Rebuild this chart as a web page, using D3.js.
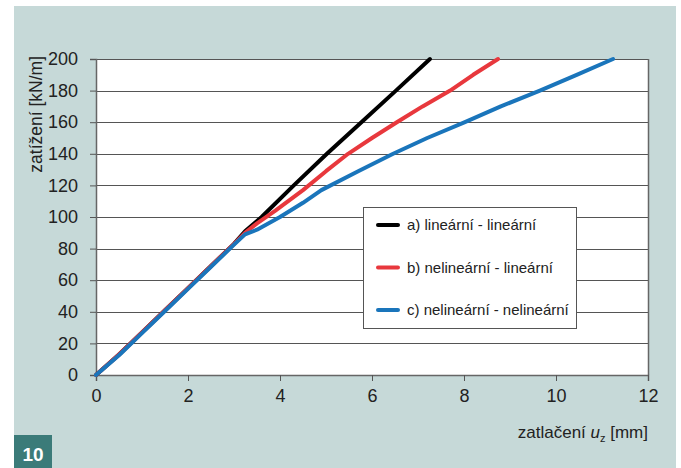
<!DOCTYPE html>
<html>
<head>
<meta charset="utf-8">
<script src="https://cdn.jsdelivr.net/npm/d3@7"></script>
<style>
  body { margin: 0; background: #fff; }
  svg text { font-family: "Liberation Sans", Arial, sans-serif; fill: #222; }
</style>
</head>
<body>
<div id="chart"></div>
<script>
// x ticks [mm], y ticks [kN/m]
const xTicks = [0, 2, 4, 6, 8, 10, 12];
const yTicks = [0, 20, 40, 60, 80, 100, 120, 140, 160, 180, 200];

// a) lineární - lineární
const aX = [0, 0.5, 1, 1.5, 2, 2.5, 3, 3.24, 3.6, 4.3, 5.02, 5.77, 6.52, 7.26];
const aY = [0, 13, 27, 41, 55, 69, 83, 91, 100, 120, 140, 160, 180, 200];
// b) nelineární - lineární
const bX = [0, 0.5, 1, 1.5, 2, 2.5, 3, 3.24, 3.5, 3.9, 4.5, 5.0, 5.48, 6.0, 6.54, 7.1, 7.7, 8.2, 8.74];
const bY = [0, 13, 27, 41, 55, 69, 83, 90, 96, 104, 117, 129, 140, 150, 160, 170, 180, 190, 200];
// c) nelineární - nelineární
const cX = [0, 0.5, 1, 1.5, 2, 2.5, 3, 3.24, 3.5, 4.0, 4.5, 4.9, 5.7, 6.46, 7.2, 8.02, 8.8, 9.65, 10.45, 11.24];
const cY = [0, 12.5, 26.5, 40.5, 54.5, 68.5, 82.5, 89, 92, 100, 109, 117, 129, 140, 150, 160, 170, 180, 190, 200];

const seriesNames = ['a) lineární - lineární', 'b) nelineární - lineární', 'c) nelineární - nelineární'];
const seriesColors = ['#000000', '#e8383d', '#1a75bb'];

const width = 681;
const height = 468;

const svg = d3.select('#chart').append('svg')
  .attr('width', width)
  .attr('height', height);

// panel background
svg.append('rect')
  .attr('x', 14).attr('y', 6)
  .attr('width', 662).attr('height', height - 6)
  .attr('fill', '#c6d9d8');

// figure number badge
svg.append('rect')
  .attr('x', 14).attr('y', 435)
  .attr('width', 38).attr('height', 33)
  .attr('fill', '#3b7b79');
svg.append('text')
  .attr('x', 33).attr('y', 461)
  .attr('text-anchor', 'middle')
  .style('fill', '#fff')
  .style('font-size', '19px')
  .style('font-weight', '600')
  .text('10');

const x = d3.scaleLinear().domain([0, 12]).range([96, 648]);
const y = d3.scaleLinear().domain([0, 200]).range([375, 59]);

// plot area
svg.append('rect')
  .attr('x', x(0)).attr('y', y(200))
  .attr('width', x(12) - x(0)).attr('height', y(0) - y(200))
  .attr('fill', '#fff');

// horizontal grid
svg.append('g').selectAll('line')
  .data(yTicks)
  .enter()
  .append('line')
  .attr('x1', x(0)).attr('x2', x(12))
  .attr('y1', (d) => Math.round(y(d)) + 0.5)
  .attr('y2', (d) => Math.round(y(d)) + 0.5)
  .attr('stroke', '#555')
  .attr('stroke-width', 1.2);

// right border
svg.append('line')
  .attr('x1', x(12) + 0.5).attr('x2', x(12) + 0.5)
  .attr('y1', y(200)).attr('y2', y(0))
  .attr('stroke', '#666').attr('stroke-width', 1.5);

// axes
const yAxis = svg.append('g')
  .attr('transform', `translate(${x(0)},0)`)
  .call(d3.axisLeft(y).tickValues(yTicks).tickSize(6).tickPadding(12));
const xAxis = svg.append('g')
  .attr('transform', `translate(0,${y(0)})`)
  .call(d3.axisBottom(x).tickValues(xTicks).tickSize(6).tickPadding(8));

[yAxis, xAxis].forEach((g) => {
  g.select('.domain').attr('stroke', '#666').attr('stroke-width', 1.5);
  g.selectAll('.tick line').attr('stroke', '#555');
  g.selectAll('.tick text')
    .style('font-size', '18px')
    .style('font-family', '"Liberation Sans", Arial, sans-serif')
    .attr('fill', '#222');
});

// curves
const allSeries = [[aX, aY], [bX, bY], [cX, cY]];
const line = d3.line()
  .x((d) => x(d[0]))
  .y((d) => y(d[1]));

allSeries.forEach(([xs, ys], i) => {
  svg.append('path')
    .datum(xs.map((v, k) => [v, ys[k]]))
    .attr('d', line)
    .attr('fill', 'none')
    .attr('stroke', seriesColors[i])
    .attr('stroke-width', 4)
    .attr('stroke-linejoin', 'round')
    .attr('stroke-linecap', 'round');
});

// legend
const legend = svg.append('g').attr('transform', 'translate(363,207)');
legend.append('rect')
  .attr('x', 0.5).attr('y', 0.5)
  .attr('width', 213).attr('height', 121)
  .attr('fill', '#fff')
  .attr('stroke', '#555');
seriesNames.forEach((name, i) => {
  const ly = 18 + i * 42.5;
  legend.append('line')
    .attr('x1', 15).attr('x2', 35)
    .attr('y1', ly).attr('y2', ly)
    .attr('stroke', seriesColors[i])
    .attr('stroke-width', 4)
    .attr('stroke-linecap', 'round');
  legend.append('text')
    .attr('x', 44).attr('y', ly + 5)
    .style('font-size', '15px')
    .text(name);
});

// axis titles
svg.append('text')
  .attr('transform', 'translate(42,56) rotate(-90)')
  .attr('text-anchor', 'end')
  .style('font-size', '17.5px')
  .text('zatížení [kN/m]');

const xt = svg.append('text')
  .attr('x', 648).attr('y', 438)
  .attr('text-anchor', 'end')
  .style('font-size', '17px');
xt.append('tspan').text('zatlačení ');
xt.append('tspan').style('font-style', 'italic').text('u');
xt.append('tspan').attr('dy', 4).style('font-size', '11px').text('z');
xt.append('tspan').attr('dy', -4).text(' [mm]');
</script>
</body>
</html>
